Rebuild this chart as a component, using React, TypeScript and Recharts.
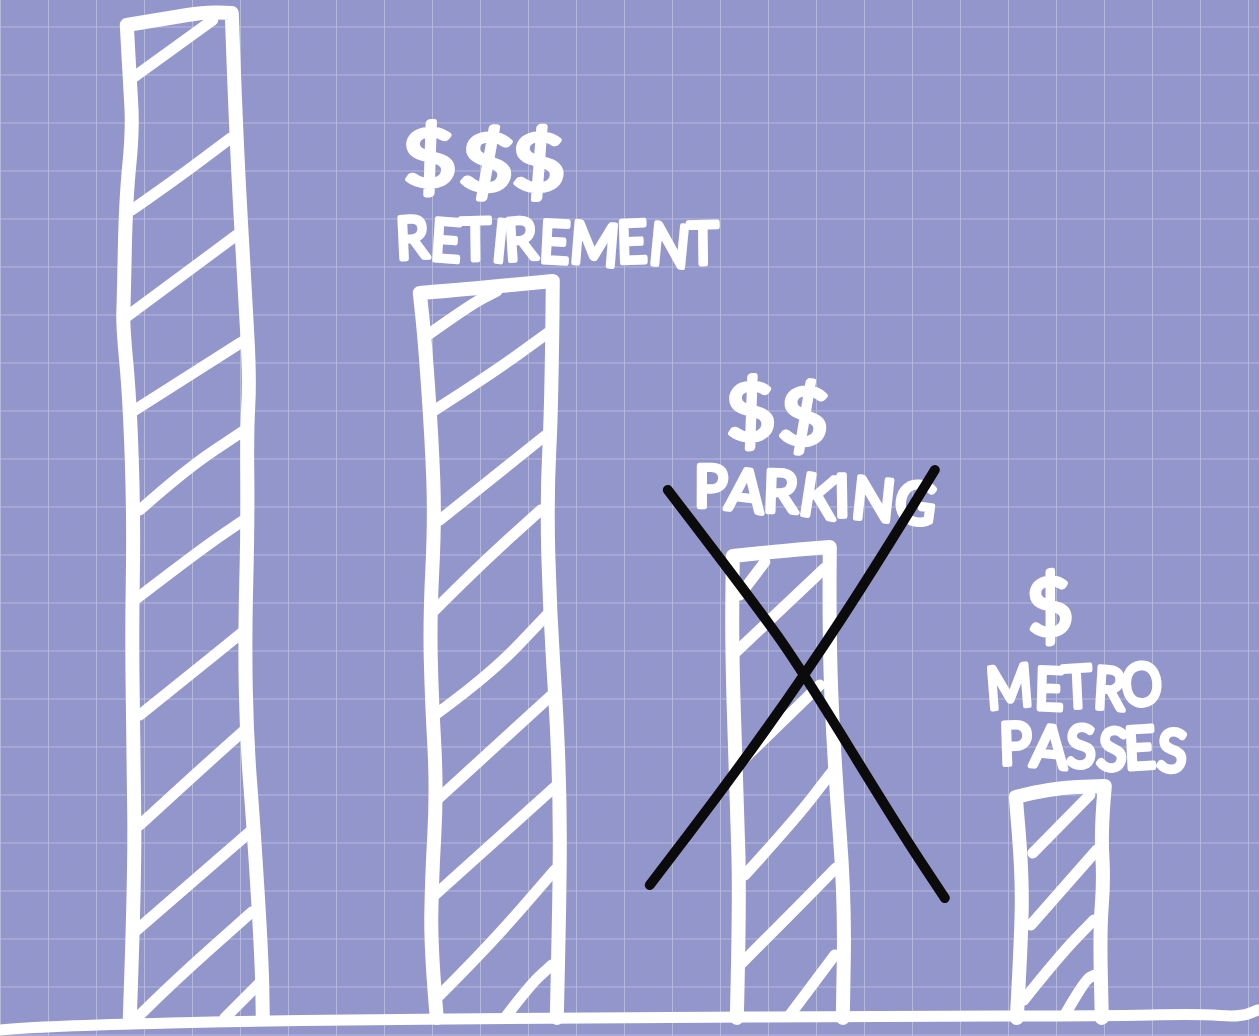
import { Bar, BarChart, CartesianGrid, ReferenceLine, XAxis, YAxis } from "recharts";

const categories = ["", "RETIREMENT", "PARKING", "METRO PASSES"];
const values = [1004, 733, 468, 228];
const dollarLabels = ["", "$$$", "$$", "$"];
const crossedOut = [false, false, true, false];

const data = categories.map((name, i) => ({
  name,
  value: values[i],
  dollars: dollarLabels[i],
  crossed: crossedOut[i],
}));

type Pt = [number, number];

// hand-drawn look: wobble is in px from the top centre of each bar, [across, down]
const outlines: Pt[][] = [
  [[-65, 1004], [-60, 866], [-61, 746], [-63, 626], [-61, 506], [-65, 386], [-72, 311], [-71, 286], [-69, 186], [-62, 116], [-65, 66], [-68, 11], [-25, 4], [10, -2], [37, -1], [41, 116], [50, 276], [55, 366], [52, 416], [53, 506], [50, 626], [52, 726], [59, 816], [67, 946], [68, 1004]],
  [[-46, 733], [-52, 665], [-51, 595], [-46, 505], [-51, 415], [-53, 335], [-48, 235], [-51, 155], [-58, 55], [-63, 8], [-3, 3], [70, -4], [69, 115], [64, 215], [67, 325], [74, 435], [77, 515], [77, 595], [74, 733]],
  [[-34, 468], [-31, 350], [-34, 250], [-39, 100], [-38, 6], [9, 1], [59, -3], [58, 90], [64, 220], [74, 350], [72, 468]],
  [[-42, 228], [-37, 140], [-37, 80], [-43, 7], [-9, -2], [46, -4], [42, 40], [45, 90], [41, 140], [43, 228]],
];

const hatches: Pt[][][] = [
  [
    [[-65, 66], [18, 6]],
    [[-63, 196], [-20, 166], [36, 124]],
    [[-70, 304], [42, 221]],
    [[-63, 398], [47, 328]],
    [[-55, 496], [-10, 456], [50, 416]],
    [[-60, 586], [5, 536], [52, 504]],
    [[-55, 701], [-5, 661], [48, 618]],
    [[-55, 811], [5, 756], [52, 714]],
    [[-58, 916], [55, 818]],
    [[-60, 1006], [-25, 971], [57, 898]],
    [[30, 1004], [65, 969]],
  ],
  [
    [[-55, 50], [-13, 20], [14, 6]],
    [[-51, 127], [7, 90], [65, 48]],
    [[-43, 235], [7, 195], [62, 151]],
    [[-48, 325], [-3, 280], [58, 225]],
    [[-48, 430], [7, 390], [66, 328]],
    [[-46, 515], [69, 410]],
    [[-48, 610], [72, 502]],
    [[-43, 710], [7, 660], [72, 585]],
    [[22, 733], [47, 700], [69, 680]],
  ],
  [
    [[-31, 45], [-6, 12]],
    [[-38, 105], [54, 18]],
    [[-33, 215], [49, 135]],
    [[-26, 325], [24, 270], [61, 222]],
    [[-31, 415], [29, 355], [65, 318]],
    [[19, 465], [64, 405]],
  ],
  [
    [[-26, 63], [31, 5]],
    [[-28, 135], [38, 60]],
    [[-35, 210], [1, 165], [35, 130]],
    [[6, 225], [26, 190], [36, 185]],
  ],
];

const crossStrokes: Pt[][] = [
  [[-103, -60], [-11, 60], [34, 125], [129, 280], [174, 348]],
  [[164, -80], [109, 10], [34, 125], [-41, 230], [-121, 335]],
];

// label placement per bar: [across, baseline, width, tilt]
const dollarPlace: number[][] = [[0, 0, 0, 0], [2, -96, 162, 2], [6, -108, 100, 2], [-7, -154, 46, 0]];
const linePlace: number[][][] = [
  [],
  [[75, -23, 322, 1]],
  [[43, -35, 240, 4]],
  [[17, -82, 176, -1], [34, -22, 186, 2]],
];
const letterWobble = [-4, 3, -2, 5, -5, 2, 4, -3, 5, -2];

const smoothRun = (pts: Pt[]) => {
  let d = "";
  for (let i = 1; i < pts.length - 1; i++) {
    const mx = (pts[i][0] + pts[i + 1][0]) / 2;
    const my = (pts[i][1] + pts[i + 1][1]) / 2;
    d += ` Q${pts[i][0]},${pts[i][1]} ${mx},${my}`;
  }
  const last = pts[pts.length - 1];
  return `${d} L${last[0]},${last[1]}`;
};

// smooth everywhere except at real corners (the bar's top left and top right)
const smooth = (pts: Pt[]) => {
  let d = `M${pts[0][0]},${pts[0][1]}`;
  let run: Pt[] = [pts[0]];
  for (let i = 1; i < pts.length; i++) {
    run.push(pts[i]);
    if (i < pts.length - 1) {
      const a1 = Math.atan2(pts[i][1] - pts[i - 1][1], pts[i][0] - pts[i - 1][0]);
      const a2 = Math.atan2(pts[i + 1][1] - pts[i][1], pts[i + 1][0] - pts[i][0]);
      let turn = Math.abs(a2 - a1);
      if (turn > Math.PI) turn = 2 * Math.PI - turn;
      if (turn > 1) {
        d += smoothRun(run);
        run = [pts[i]];
      }
    }
  }
  return d + smoothRun(run);
};

const handFont = "Lato, 'Open Sans', sans-serif";

function SketchText({ cx, top, place, text, size }: { cx: number; top: number; place: number[]; text: string; size: number }) {
  const [u, v, len, tilt] = place;
  const px = cx + u;
  const py = top + v;
  return (
    <text
      x={px}
      y={py}
      textAnchor="middle"
      textLength={len}
      lengthAdjust="spacingAndGlyphs"
      rotate={letterWobble.slice(0, text.length).join(" ")}
      transform={`rotate(${tilt} ${px} ${py})`}
      fontFamily={handFont}
      fontWeight={400}
      fontSize={size}
      fill="#fff"
      stroke="#fff"
      strokeWidth={5}
      strokeLinejoin="round"
    >
      {text}
    </text>
  );
}

function SketchBar(props: any) {
  const { x, y, width, height, index } = props;
  const cx = x + width / 2;
  const k = height / values[index];
  const place = (p: Pt): Pt => [cx + p[0], y + p[1] * k];
  const words = categories[index] ? categories[index].split(" ") : [];
  return (
    <g>
      <path d={smooth(outlines[index].map(place))} fill="none" stroke="#fff" strokeWidth={14} strokeLinecap="round" strokeLinejoin="round" />
      {hatches[index].map((h, i) => (
        <path key={i} d={smooth(h.map(place))} fill="none" stroke="#fff" strokeWidth={11} strokeLinecap="round" />
      ))}
      {dollarLabels[index] && <SketchText cx={cx} top={y} place={dollarPlace[index]} text={dollarLabels[index]} size={78} />}
      {words.map((w, i) => (
        <SketchText key={w} cx={cx} top={y} place={linePlace[index][i]} text={w} size={58} />
      ))}
      {crossedOut[index] &&
        crossStrokes.map((c, i) => (
          <path key={i} d={smooth(c.map(place))} fill="none" stroke="#0b0b0b" strokeWidth={10} strokeLinecap="round" />
        ))}
    </g>
  );
}

// the floor line wobbles across the full width, offsets from the zero line
const floorWobble: Pt[] = [[0, 12], [40, 8], [300, 2], [600, 0], [900, -2], [1100, -2], [1200, -4], [1240, -1], [1258, -8]];

function SketchFloor(props: any) {
  const base = props.y1 ?? props.y;
  return (
    <path d={smooth(floorWobble.map(([a, b]): Pt => [a, base + b]))} fill="none" stroke="#fff" strokeWidth={11} strokeLinecap="round" />
  );
}

const gridX = Array.from({ length: 27 }, (_, i) => 0.5 + i * 48);
const gridY = Array.from({ length: 22 }, (_, i) => 27 + i * 48);

export default function App() {
  return (
    <div style={{ position: "absolute", left: 0, top: 0, width: 1259, height: 1036, background: "#9396CB", overflow: "hidden" }}>
      <BarChart width={1259} height={1036} data={data} margin={{ top: 0, right: 0, bottom: 0, left: 0 }}>
        <CartesianGrid stroke="#B6B8DE" strokeWidth={1} horizontalPoints={gridY} verticalPoints={gridX} />
        <XAxis dataKey="name" hide padding={{ left: 51, right: 56 }} />
        <YAxis hide domain={[-18, 1018]} />
        <Bar dataKey="value" isAnimationActive={false} shape={SketchBar} />
        <ReferenceLine y={0} shape={SketchFloor} />
      </BarChart>
    </div>
  );
}
